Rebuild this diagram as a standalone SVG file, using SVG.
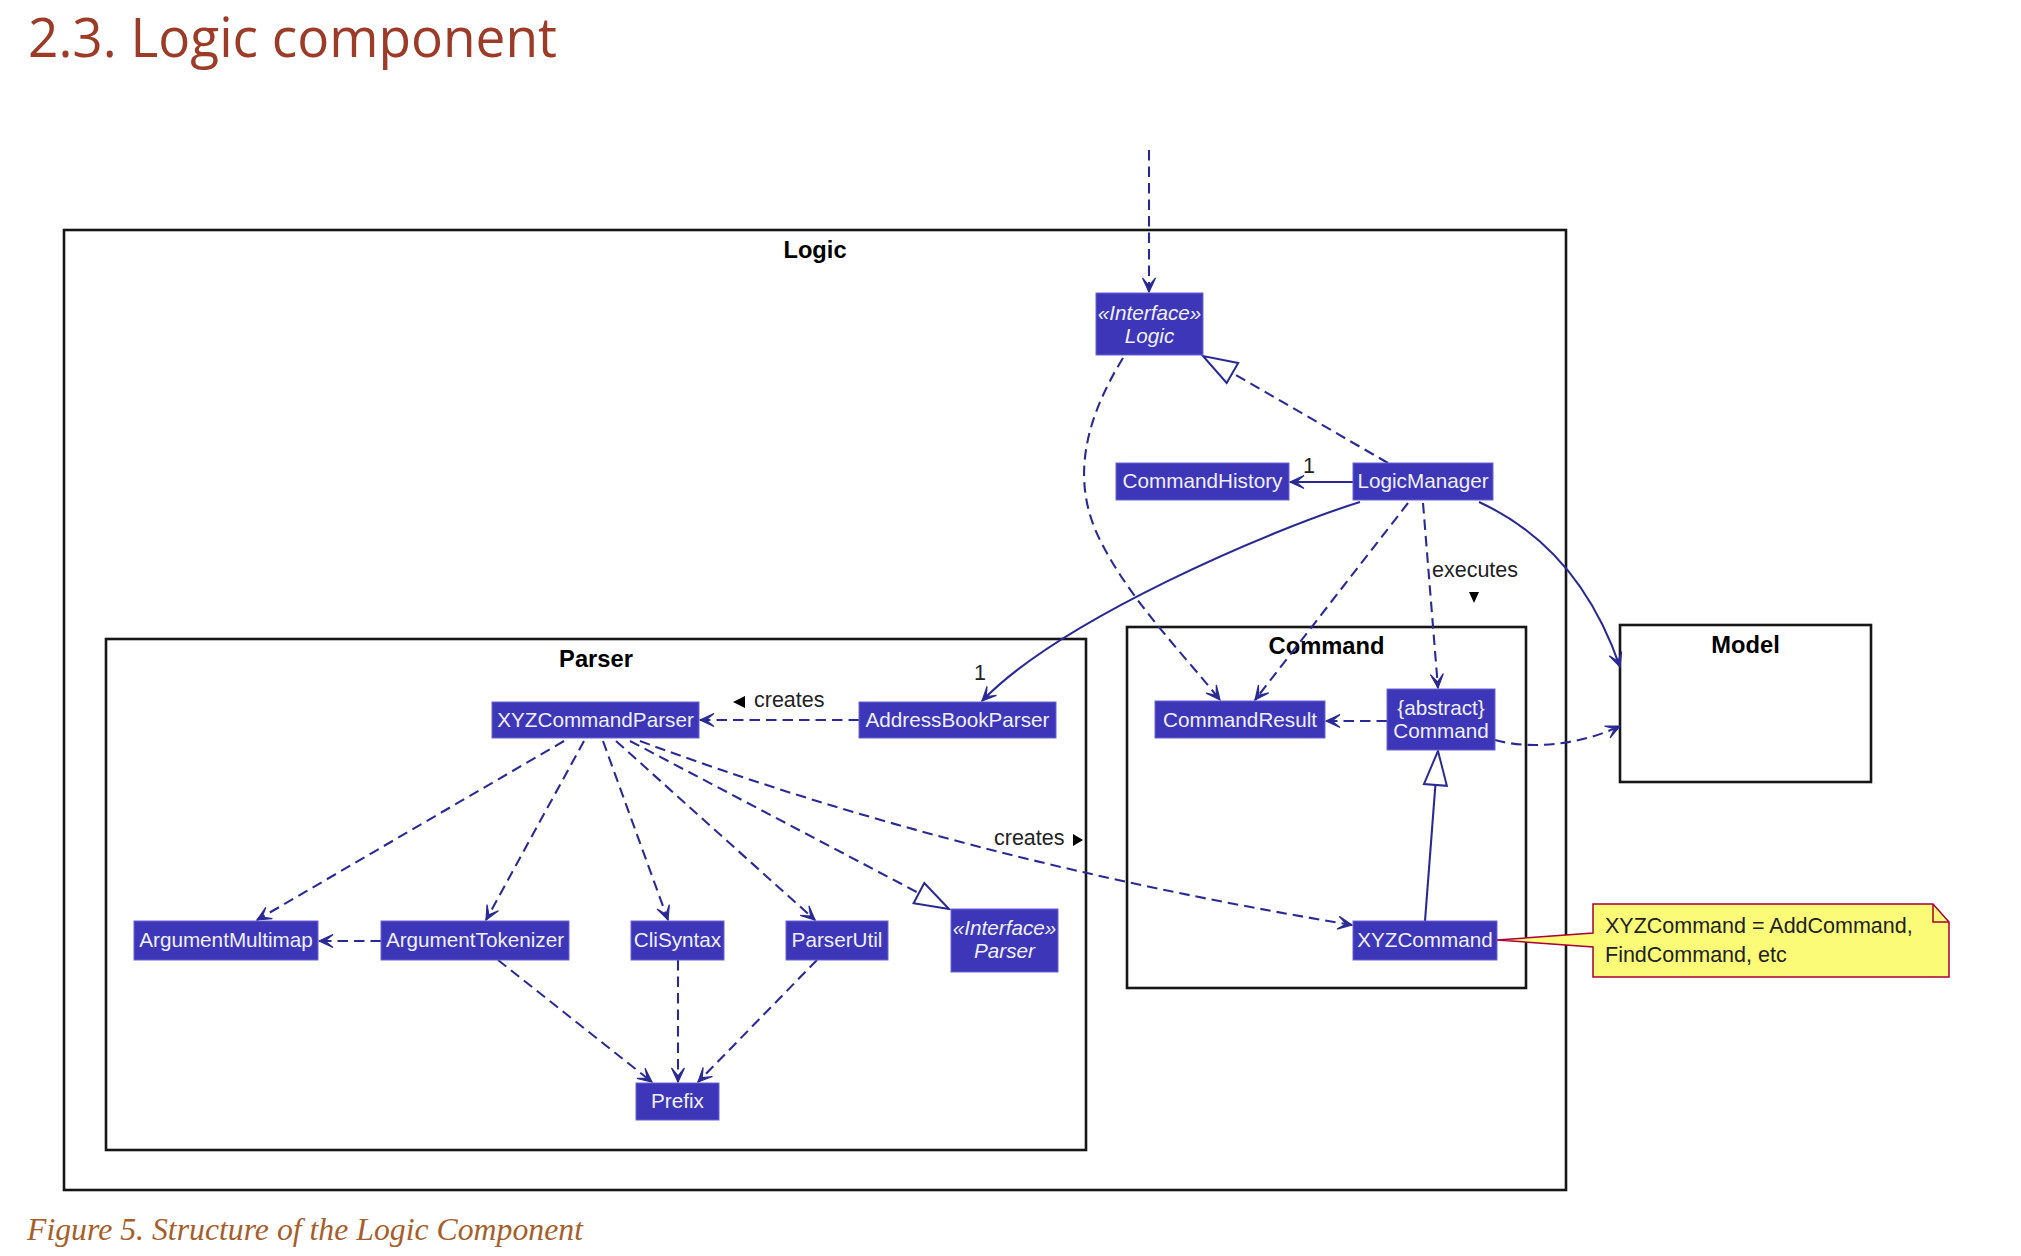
<svg xmlns="http://www.w3.org/2000/svg" width="2021" height="1256" viewBox="0 0 2021 1256">
<defs>
<style>
.frame{fill:none;stroke:#161616;stroke-width:2.6}
.ftitle{font-family:"Liberation Sans",Arial,sans-serif;font-weight:bold;font-size:23.7px;fill:#000;text-anchor:middle}
.node rect{fill:#3d36b8;stroke:#6a63d4;stroke-width:1}
.node text{font-family:"Liberation Sans",Arial,sans-serif;font-size:20.7px;fill:#f0f0ff;text-anchor:middle}
.node text.it{font-style:italic}
.e{fill:none;stroke:#2b2a94;stroke-width:2.1}
.d{stroke-dasharray:10.5 6}
.lbl{font-family:"Liberation Sans",Arial,sans-serif;font-size:21.5px;fill:#222}
</style>
<marker id="arr" markerUnits="userSpaceOnUse" viewBox="-16 -8 18 16" refX="0" refY="0" markerWidth="18" markerHeight="16" orient="auto">
<path d="M0,0 L-14,-6.5 L-6,0 L-14,6.5 Z" fill="#2b2a94" stroke="#2b2a94" stroke-width="1.2" stroke-linejoin="miter"/>
</marker>
<marker id="tri" markerUnits="userSpaceOnUse" viewBox="-36 -14 38 28" refX="0" refY="0" markerWidth="38" markerHeight="28" orient="auto">
<path d="M0,0 L-34,-11.5 L-34,11.5 Z" fill="#fff" stroke="#2b2a94" stroke-width="2"/>
</marker>
</defs>
<rect width="2021" height="1256" fill="#fff"/>
<text x="28" y="57" font-family="'Open Sans',sans-serif" font-size="55" fill="#9c3b28" textLength="529" lengthAdjust="spacingAndGlyphs">2.3. Logic component</text>
<text x="27" y="1240" font-family="'Liberation Serif','Times New Roman',serif" font-style="italic" font-size="31" fill="#a65e2a" textLength="556" lengthAdjust="spacingAndGlyphs">Figure 5. Structure of the Logic Component</text>

<g id="frame-logic"><rect class="frame" x="64" y="230" width="1502" height="960"/><text class="ftitle" x="815" y="258">Logic</text></g>
<g id="frame-parser"><rect class="frame" x="106" y="639" width="980" height="511"/><text class="ftitle" x="596" y="667">Parser</text></g>
<g id="frame-command"><rect class="frame" x="1127" y="627" width="399" height="361"/><text class="ftitle" x="1326.5" y="654">Command</text></g>
<g id="frame-model"><rect class="frame" x="1620" y="625" width="251" height="157"/><text class="ftitle" x="1745.5" y="653">Model</text></g>

<g id="connectors">
<path class="e d" d="M1149,150 L1149,292" marker-end="url(#arr)"/>
<path class="e d" d="M1388,463 L1203,356" marker-end="url(#tri)"/>
<path class="e" d="M1353,482 L1290,482" marker-end="url(#arr)"/>
<path class="e" d="M1360,502 C1270,530 1060,620 982,701" marker-end="url(#arr)"/>
<path class="e" d="M1479,502 C1540,530 1590,580 1620,667" marker-end="url(#arr)"/>
<path class="e d" d="M1408,503 L1255,700" marker-end="url(#arr)"/>
<path class="e d" d="M1423,503 L1438,688" marker-end="url(#arr)"/>
<path class="e d" d="M1123,358 C1085,420 1070,480 1100,540 S1180,650 1220,700" marker-end="url(#arr)"/>
<path class="e d" d="M1387,721 L1326,721" marker-end="url(#arr)"/>
<path class="e d" d="M1495,740 C1530,750 1580,745 1620,726" marker-end="url(#arr)"/>
<path class="e" d="M1425,921 L1438,751" marker-end="url(#tri)"/>
<path class="e d" d="M640,741 Q960,860 1352,925" marker-end="url(#arr)"/>
<path class="e d" d="M859,720 L700,720" marker-end="url(#arr)"/>
<path class="e d" d="M564,741 L257,920" marker-end="url(#arr)"/>
<path class="e d" d="M584,741 L486,920" marker-end="url(#arr)"/>
<path class="e d" d="M603,741 L668,920" marker-end="url(#arr)"/>
<path class="e d" d="M616,741 L815,920" marker-end="url(#arr)"/>
<path class="e d" d="M630,741 L949,909" marker-end="url(#tri)"/>
<path class="e d" d="M381,941 L319,941" marker-end="url(#arr)"/>
<path class="e d" d="M498,960 L652,1082" marker-end="url(#arr)"/>
<path class="e d" d="M678,960 L678,1082" marker-end="url(#arr)"/>
<path class="e d" d="M817,960 L698,1082" marker-end="url(#arr)"/>
<text class="lbl" x="1309" y="473" text-anchor="middle">1</text>
<text class="lbl" x="980" y="680" text-anchor="middle">1</text>
<polygon points="733,702 745,696 745,708" fill="#000"/>
<text class="lbl" x="754" y="707">creates</text>
<text class="lbl" x="994" y="845">creates</text>
<polygon points="1073,834 1083,840 1073,846" fill="#000"/>
<text class="lbl" x="1432" y="577">executes</text>
<polygon points="1469,592 1479,592 1474,603" fill="#000"/>
</g>

<g id="node-logic" class="node"><rect x="1096" y="293" width="107" height="62"/><text class="it" x="1149.5" y="320">«Interface»</text><text class="it" x="1149.5" y="343">Logic</text></g>
<g id="node-commandhistory" class="node"><rect x="1116" y="463" width="173" height="37"/><text x="1202.5" y="488">CommandHistory</text></g>
<g id="node-logicmanager" class="node"><rect x="1353" y="463" width="140" height="37"/><text x="1423" y="488">LogicManager</text></g>
<g id="node-xyzcommandparser" class="node"><rect x="492" y="702" width="207" height="36"/><text x="595.5" y="727">XYZCommandParser</text></g>
<g id="node-addressbookparser" class="node"><rect x="859" y="702" width="197" height="36"/><text x="957.5" y="727">AddressBookParser</text></g>
<g id="node-argumentmultimap" class="node"><rect x="134" y="921" width="184" height="39"/><text x="226" y="947">ArgumentMultimap</text></g>
<g id="node-argumenttokenizer" class="node"><rect x="381" y="921" width="188" height="39"/><text x="475" y="947">ArgumentTokenizer</text></g>
<g id="node-clisyntax" class="node"><rect x="631" y="921" width="93" height="39"/><text x="677.5" y="947">CliSyntax</text></g>
<g id="node-parserutil" class="node"><rect x="786" y="921" width="102" height="39"/><text x="837" y="947">ParserUtil</text></g>
<g id="node-parser" class="node"><rect x="951" y="909" width="107" height="63"/><text class="it" x="1004.5" y="935">«Interface»</text><text class="it" x="1004.5" y="958">Parser</text></g>
<g id="node-prefix" class="node"><rect x="636" y="1083" width="83" height="37"/><text x="677.5" y="1108">Prefix</text></g>
<g id="node-commandresult" class="node"><rect x="1155" y="701" width="170" height="37"/><text x="1240" y="727">CommandResult</text></g>
<g id="node-command" class="node"><rect x="1387" y="689" width="108" height="61"/><text x="1441" y="715">{abstract}</text><text x="1441" y="738">Command</text></g>
<g id="node-xyzcommand" class="node"><rect x="1353" y="921" width="144" height="39"/><text x="1425" y="947">XYZCommand</text></g>

<g id="note">
<path d="M1593,904 L1933,904 L1949,922 L1949,977 L1593,977 L1593,947 L1497,940 L1593,933 Z" fill="#fbfb77" stroke="#a80036" stroke-width="1.5"/>
<path d="M1933,904 L1933,922 L1949,922" fill="none" stroke="#a80036" stroke-width="1.5"/>
<text class="lbl" x="1605" y="933" font-size="21.5" fill="#000">XYZCommand = AddCommand,</text>
<text class="lbl" x="1605" y="962" font-size="21.5" fill="#000">FindCommand, etc</text>
</g>
</svg>
